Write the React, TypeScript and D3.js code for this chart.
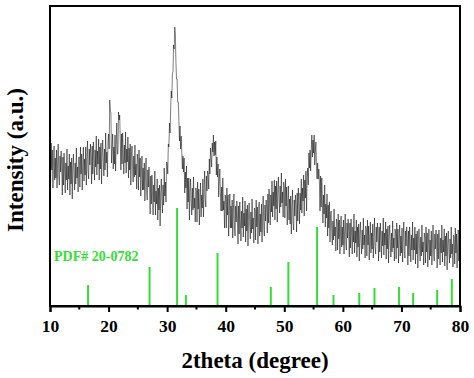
import { useEffect, useRef } from 'react'
import * as d3 from 'd3'

const thetaStart = 10
const thetaStep = 0.1
const intensity: number[] = [
  153, 123, 163, 136, 156, 118, 143, 160, 126, 148, // 10
  128, 156, 118, 144, 162, 129, 121, 150, 134, 155,
  138, 111, 149, 121, 153, 134, 113, 143, 126, 157,
  116, 140, 127, 152, 111, 144, 122, 148, 107, 138,
  152, 130, 116, 143, 122, 158, 128, 139, 114, 149,
  149, 119, 159, 132, 152, 116, 142, 159, 125, 147, // 15
  131, 159, 121, 147, 165, 135, 127, 157, 141, 162,
  149, 122, 160, 132, 164, 147, 126, 156, 139, 170,
  131, 155, 142, 167, 126, 159, 137, 163, 122, 153,
  166, 144, 130, 157, 136, 173, 143, 154, 129, 164,
  172, 157, 206, 195, 193, 143, 158, 172, 137, 159, // 20
  142, 171, 135, 163, 183, 152, 152, 194, 186, 191,
  165, 136, 172, 142, 173, 154, 132, 161, 143, 174,
  133, 157, 144, 169, 128, 158, 136, 162, 121, 152,
  160, 138, 124, 150, 129, 161, 131, 142, 117, 152,
  146, 116, 156, 129, 148, 110, 133, 150, 116, 138, // 25
  116, 143, 105, 131, 148, 115, 106, 136, 119, 139,
  119, 92, 130, 102, 131, 114, 91, 121, 104, 135,
  91, 115, 102, 127, 86, 118, 96, 121, 80, 111,
  127, 106, 93, 121, 101, 138, 110, 124, 104, 144,
  143, 132, 162, 159, 183, 173, 197, 215, 208, 233, // 30
  234, 261, 257, 279, 272, 244, 227, 227, 204, 204,
  188, 165, 180, 157, 170, 154, 137, 150, 134, 148,
  113, 134, 118, 140, 97, 128, 104, 128, 86, 116,
  127, 105, 91, 118, 96, 129, 98, 108, 84, 118,
  114, 84, 124, 97, 117, 81, 106, 123, 89, 111, // 35
  98, 127, 89, 116, 135, 107, 99, 130, 115, 135,
  132, 117, 147, 132, 158, 149, 139, 163, 154, 171,
  150, 164, 151, 165, 131, 149, 129, 142, 109, 127,
  137, 112, 95, 119, 95, 128, 96, 105, 78, 111,
  108, 78, 118, 91, 111, 70, 95, 112, 78, 100, // 40
  78, 106, 68, 94, 112, 78, 70, 100, 84, 105,
  89, 62, 100, 72, 104, 86, 65, 95, 78, 109,
  69, 93, 80, 105, 64, 97, 75, 101, 60, 91,
  103, 81, 67, 94, 73, 107, 77, 88, 63, 98,
  96, 66, 106, 79, 99, 62, 87, 104, 70, 92, // 45
  74, 102, 64, 91, 110, 78, 70, 101, 85, 106,
  99, 73, 112, 83, 117, 100, 81, 111, 94, 125,
  89, 114, 100, 126, 86, 120, 97, 125, 84, 115,
  129, 107, 93, 120, 99, 133, 103, 114, 89, 124,
  118, 88, 127, 100, 119, 81, 104, 120, 86, 107, // 50
  82, 110, 72, 98, 116, 84, 76, 106, 90, 111,
  101, 74, 113, 85, 118, 101, 82, 113, 96, 127,
  93, 118, 105, 131, 90, 126, 108, 135, 95, 127,
  138, 121, 153, 138, 156, 135, 156, 171, 149, 166,
  153, 171, 141, 155, 164, 137, 127, 143, 127, 137, // 55
  125, 95, 130, 99, 128, 107, 83, 111, 92, 121,
  79, 102, 88, 112, 70, 101, 78, 104, 64, 91,
  95, 74, 61, 85, 66, 97, 70, 79, 55, 87,
  83, 56, 92, 67, 86, 52, 75, 90, 59, 79,
  61, 86, 52, 75, 92, 63, 56, 83, 68, 87, // 60
  74, 49, 83, 58, 87, 71, 52, 79, 64, 92,
  53, 75, 63, 86, 49, 79, 59, 82, 45, 73,
  84, 64, 52, 76, 57, 88, 61, 71, 48, 80,
  77, 50, 86, 61, 80, 46, 69, 84, 53, 73,
  57, 82, 48, 71, 88, 59, 52, 79, 64, 83, // 65
  70, 45, 79, 54, 83, 67, 48, 75, 60, 88,
  51, 73, 61, 84, 47, 77, 57, 80, 43, 71,
  81, 61, 49, 73, 54, 85, 58, 68, 45, 77,
  74, 47, 83, 58, 77, 43, 66, 81, 50, 70,
  53, 78, 44, 67, 84, 55, 48, 75, 60, 79, // 70
  66, 41, 75, 50, 79, 63, 44, 71, 56, 84,
  46, 68, 56, 79, 42, 72, 52, 75, 38, 66,
  77, 57, 45, 69, 50, 81, 54, 64, 41, 73,
  70, 43, 79, 54, 73, 39, 62, 77, 46, 66,
  50, 75, 41, 64, 81, 52, 45, 72, 57, 76, // 75
  63, 38, 72, 47, 76, 60, 41, 68, 53, 81,
  44, 66, 54, 77, 40, 70, 50, 73, 36, 64,
  75, 55, 43, 67, 48, 79, 52, 62, 39, 71,
  69, 42, 78, 53, 72, 38, 61, 76, 45, 65,
  60, // 80
]

// reference pattern PDF# 20-0782
const refTheta = [16.5, 27.0, 31.7, 33.2, 38.6, 47.7, 50.7, 55.6, 58.4, 62.8, 65.4, 69.6, 72.0, 76.1, 78.6]
const refHeight = [21, 39, 98, 11, 53, 19, 44, 79, 11, 13, 18, 19, 13, 16, 27]

const majorTicks = [10, 20, 30, 40, 50, 60, 70, 80]
const minorTicks = [15, 25, 35, 45, 55, 65, 75]

const W = 474
const H = 378
const M = { left: 50, right: 14, top: 6, bottom: 72 }
const GREEN = '#36dc36'
const FONT = '"Liberation Serif", "Times New Roman", serif'

export default function App() {
  const axisRef = useRef<SVGGElement>(null)

  const x = d3.scaleLinear().domain([10, 80]).range([M.left, W - M.right])
  const y = d3.scaleLinear().domain([0, 300]).range([H - M.bottom, M.top])

  const points = intensity.map((v, i) => [thetaStart + i * thetaStep, v] as [number, number])
  const line = d3
    .line<[number, number]>()
    .x((d) => x(d[0]))
    .y((d) => y(d[1]))

  const x0 = x(10)
  const x1 = x(80)
  const y0 = y(0)
  const yTop = y(300)

  useEffect(() => {
    if (!axisRef.current) return
    const g = d3.select(axisRef.current)
    g.selectAll('*').remove()

    // box around the plot
    g.append('rect')
      .attr('x', x0)
      .attr('y', yTop)
      .attr('width', x1 - x0)
      .attr('height', y0 - yTop)
      .attr('fill', 'none')
      .attr('stroke', '#000')
      .attr('stroke-width', 2)

    // bottom axis ticks, outside
    const axis = d3
      .axisBottom(x)
      .tickValues(majorTicks)
      .tickSize(6)
      .tickFormat(d3.format('d'))
    const ax = g.append('g').attr('transform', `translate(0,${y0})`).call(axis)
    ax.select('.domain').attr('stroke', '#000').attr('stroke-width', 2)
    ax.selectAll('.tick line').attr('stroke-width', 2)
    ax.selectAll('.tick text')
      .attr('y', 14)
      .attr('font-size', 17.5)
      .attr('font-weight', 'bold')
      .attr('font-family', FONT)
      .attr('fill', '#000')

    g.selectAll('.minor')
      .data(minorTicks)
      .join('line')
      .attr('class', 'minor')
      .attr('x1', (d) => x(d))
      .attr('x2', (d) => x(d))
      .attr('y1', y0)
      .attr('y2', y0 + 3.5)
      .attr('stroke', '#000')
      .attr('stroke-width', 2)
  }, [])

  return (
    <svg
      width={W}
      height={H}
      style={{ position: 'absolute', left: 0, top: 0, background: '#fff' }}
      fontFamily={FONT}
    >
      {/* sticks */}
      {refTheta.map((t, i) => (
        <line
          key={t}
          x1={x(t)}
          x2={x(t)}
          y1={y0}
          y2={y(refHeight[i])}
          stroke={GREEN}
          strokeWidth={2}
        />
      ))}
      <text x={54} y={261} fill={GREEN} fontSize={14} fontWeight="bold">
        PDF# 20-0782
      </text>

      {/* measured pattern */}
      <path d={line(points) ?? ''} fill="none" stroke="#000" strokeWidth={0.6} strokeOpacity={0.85} />

      <g ref={axisRef} />

      <text x={(x0 + x1) / 2} y={368} textAnchor="middle" fontSize={23} fontWeight="bold">
        2theta (degree)
      </text>
      <text
        transform="translate(23,160) rotate(-90)"
        textAnchor="middle"
        fontSize={23}
        fontWeight="bold"
      >
        Intensity (a.u.)
      </text>
    </svg>
  )
}
